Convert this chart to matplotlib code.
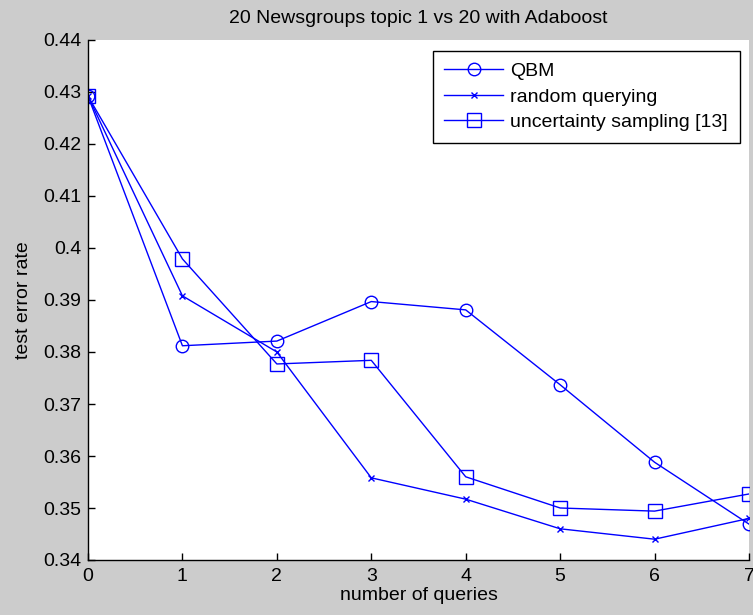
import matplotlib.pyplot as plt

plt.rcParams['font.family'] = ['Liberation Sans', 'DejaVu Sans']

queries = [0, 1, 2, 3, 4, 5, 6, 7]
qbm = [0.4292, 0.3812, 0.3821, 0.3897, 0.3881, 0.3737, 0.3588, 0.3469]
random_q = [0.4292, 0.3908, 0.3800, 0.3558, 0.3517, 0.3460, 0.3440, 0.3480]
uncertainty = [0.4292, 0.3979, 0.3777, 0.3784, 0.3560, 0.3500, 0.3494, 0.3527]

yticks = [0.34, 0.35, 0.36, 0.37, 0.38, 0.39, 0.40, 0.41, 0.42, 0.43, 0.44]
ytick_labels = ['0.34', '0.35', '0.36', '0.37', '0.38', '0.39', '0.4',
                '0.41', '0.42', '0.43', '0.44']

blue = '#0000ff'
fs = 14

fig = plt.figure(figsize=(7.53, 6.15), dpi=100, facecolor='#cccccc')
ax = fig.add_axes([88/753, 55/615, 661/753, 520/615])
ax.set_facecolor('white')

ax.plot(queries, qbm, '-o', color=blue, lw=1.0, ms=9, mfc='none', mew=1.0, label='QBM')
ax.plot(queries, random_q, '-x', color=blue, lw=1.0, ms=5, mew=1.0, label='random querying')
ax.plot(queries, uncertainty, '-s', color=blue, lw=1.0, ms=10, mfc='none', mew=1.0,
        label='uncertainty sampling [13]')

ax.set_xlim(0, 7)
ax.set_ylim(0.34, 0.44)
ax.set_xticks(queries)
ax.set_yticks(yticks)
ax.set_yticklabels(ytick_labels)

for s in ['top', 'right']:
    ax.spines[s].set_visible(False)
for s in ['left', 'bottom']:
    ax.spines[s].set_linewidth(1.0)
ax.tick_params(direction='in', length=5, width=1.0, labelsize=fs)
ax.tick_params(axis='x', pad=6)
ax.tick_params(axis='y', pad=5)

ax.set_title('20 Newsgroups topic 1 vs 20 with Adaboost', fontsize=fs, pad=12)
ax.set_xlabel('number of queries', fontsize=fs, labelpad=1)
ax.set_ylabel('test error rate', fontsize=fs, labelpad=8)

leg = ax.legend(loc='upper right', bbox_to_anchor=(0.986, 0.979), borderaxespad=0,
                fontsize=fs, frameon=True, fancybox=False, edgecolor='black',
                framealpha=1, handlelength=3.0, borderpad=0.6, labelspacing=0.4,
                handletextpad=0.4)
leg.get_frame().set_linewidth(1.0)

fig.savefig('out.png', dpi=100, facecolor=fig.get_facecolor())
